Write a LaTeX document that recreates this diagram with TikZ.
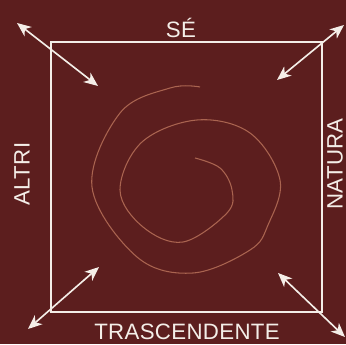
\documentclass[tikz,border=0pt]{standalone}
\usepackage{fontspec}
\setmainfont{Liberation Sans}
\usepackage{xcolor}
\usetikzlibrary{arrows.meta}
\definecolor{granata}{RGB}{92,30,30}
\definecolor{biancastro}{RGB}{244,238,232}
\definecolor{ramato}{RGB}{170,100,80}
\tikzset{
  cornice/.style={draw=biancastro,line width=1.3pt},
  freccia/.style={{Stealth[length=12pt,width=10pt,inset=3.5pt]}-{Stealth[length=12pt,width=10pt,inset=3.5pt]},draw=biancastro,line width=1.4pt},
  spirale/.style={draw=ramato,line width=0.9pt},
  etichetta/.style={text=biancastro,inner sep=0pt,font=\fontsize{19}{21}\selectfont\addfontfeatures{LetterSpace=1.5}}
}
\begin{document}
\begin{tikzpicture}[x=0.03cm,y=0.03cm]
\fill[granata] (0,0) rectangle (346,344);
\useasboundingbox (0,0) rectangle (346,344);
% cornice
\draw[cornice] (51,32) rectangle (322,302);
% frecce agli angoli
\coordinate (so1) at (17,321);  \coordinate (so2) at (98,258);
\coordinate (ne1) at (344,319); \coordinate (ne2) at (277,264);
\coordinate (go1) at (28,15);   \coordinate (go2) at (99,77);
\coordinate (gd1) at (278,71);  \coordinate (gd2) at (345,7);
\draw[freccia] (so1) -- (so2);
\draw[freccia] (ne1) -- (ne2);
\draw[freccia] (go1) -- (go2);
\draw[freccia] (gd1) -- (gd2);
% spirale
\draw[spirale] plot[smooth,tension=0.6] coordinates {
  (195,186) (220,176) (232,154) (227,131) (183,102) (143,117) (120,154)
  (142,202) (197,224) (250,211) (280,164) (268,119) (250,94) (193,71)
  (137,87) (92,157) (120,231) (170,256) (200,257)};
% etichette
\node[etichetta] (se) at (181,316) {SÉ};
\node[etichetta] (tra) at (187,12) {TRASCENDENTE};
\node[etichetta,rotate=90] (altri) at (22,170) {ALTRI};
\node[etichetta,rotate=90] (natura) at (335,180) {NATURA};
\end{tikzpicture}
\end{document}
